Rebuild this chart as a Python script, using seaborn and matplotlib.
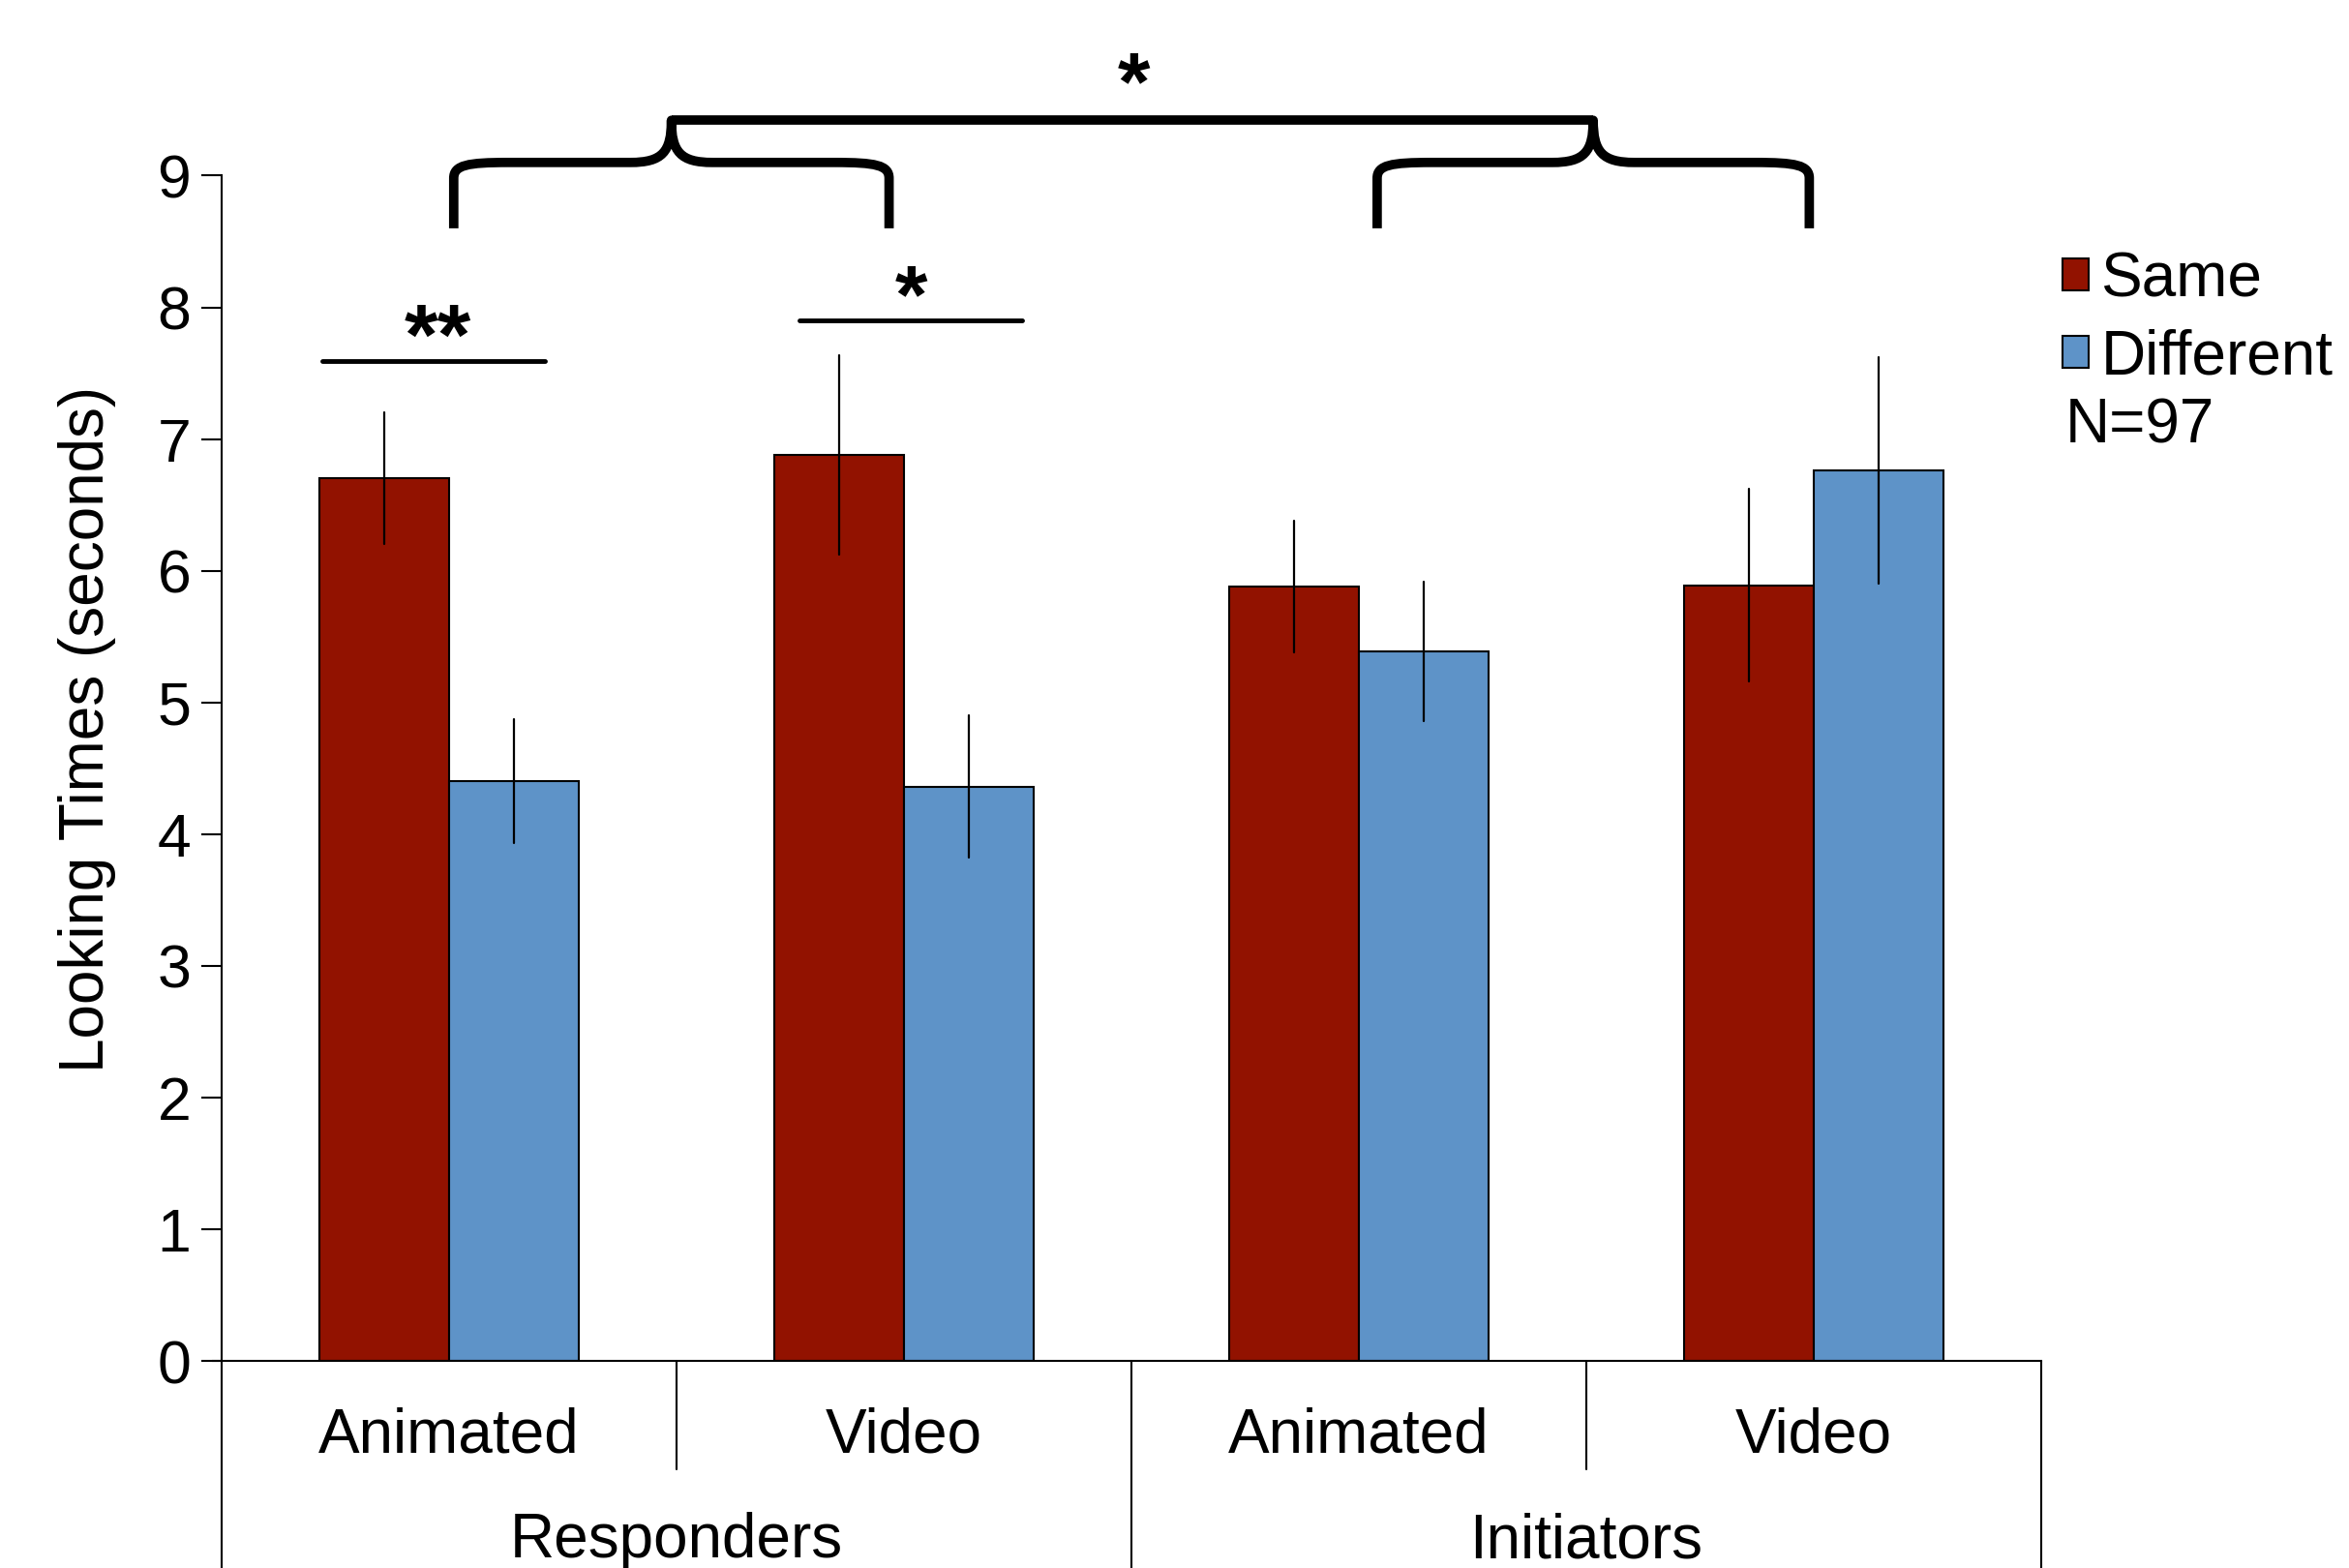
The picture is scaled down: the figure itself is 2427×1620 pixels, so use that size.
import numpy as np
import pandas as pd
import seaborn as sns
import matplotlib.pyplot as plt
from matplotlib.path import Path
from matplotlib.patches import PathPatch
from matplotlib.patches import Patch
import matplotlib.transforms as mtransforms

# data
groups = ["Responders", "Responders", "Initiators", "Initiators"]
conditions = ["Animated", "Video", "Animated", "Video"]
same_means = [6.70, 6.88, 5.88, 5.89]
same_err = [0.50, 0.76, 0.50, 0.73]
diff_means = [4.40, 4.36, 5.39, 6.76]
diff_err = [0.47, 0.54, 0.53, 0.86]
hue_labels = ["Same", "Different"]
colors = ["#921200", "#5e93c8"]

FONT = ["Liberation Sans", "DejaVu Sans"]

cats = [f"{g} {c}" for g, c in zip(groups, conditions)]
df = pd.DataFrame({
    "cat": cats * 2,
    "type": ["Same"] * 4 + ["Different"] * 4,
    "value": same_means + diff_means,
    "err": same_err + diff_err,
})

sns.set_style("white")
plt.rcParams["font.family"] = FONT
plt.rcParams["text.color"] = "black"
plt.rcParams["axes.labelcolor"] = "black"
plt.rcParams["xtick.color"] = "black"
plt.rcParams["ytick.color"] = "black"
plt.rcParams["axes.edgecolor"] = "black"

fig = plt.figure(figsize=(24.27, 16.2), dpi=100)
ax = fig.add_axes([0.0944, 0.132, 0.7746, 0.756])

sns.barplot(data=df, x="cat", y="value", hue="type", hue_order=hue_labels,
            palette=colors, order=cats, width=0.57, errorbar=None,
            edgecolor="black", linewidth=1.5, saturation=1, ax=ax, legend=False)

# error bars from bar centres
for cont, errs in zip(ax.containers, [same_err, diff_err]):
    for bar, e in zip(cont, errs):
        xc = bar.get_x() + bar.get_width() / 2
        h = bar.get_height()
        ax.plot([xc, xc], [h - e, h + e], color="black", lw=1.6, zorder=5)

ax.set_xlim(-0.5, 3.5)
ax.set_ylim(0, 9)
ax.set_yticks(range(10))
ax.tick_params(axis="y", labelsize=45, length=15, width=1.5, direction="out", pad=8, left=True)
ax.set_xticks([])
ax.set_xlabel("")
ax.set_ylabel("Looking Times (seconds)", fontsize=46, labelpad=22)
ax.yaxis.set_label_coords(-0.058, 0.533)
for s in ["top", "right"]:
    ax.spines[s].set_visible(False)
ax.spines["left"].set_linewidth(1.5)
ax.spines["bottom"].set_linewidth(1.5)
ax.spines["bottom"].set_bounds(-0.52, 3.5)

# hierarchical category axis below
trans = mtransforms.blended_transform_factory(ax.transData, ax.transAxes)
for xb in [-0.5, 1.5, 3.5]:
    ax.plot([xb, xb], [0, -0.2], color="black", lw=1.5, transform=trans, clip_on=False)
for xb in [0.5, 2.5]:
    ax.plot([xb, xb], [0, -0.091], color="black", lw=1.5, transform=trans, clip_on=False)
for i, c in enumerate(conditions):
    ax.text(i, -0.063, c, transform=trans, ha="center", va="center", fontsize=46)
for i, g in enumerate(["Responders", "Initiators"]):
    ax.text(2 * i + 0.5, -0.152, g, transform=trans, ha="center", va="center", fontsize=46)

# significance markers
ax.plot([-0.28, 0.21], [7.59, 7.59], color="black", lw=3.5, clip_on=False)
ax.text(-0.025, 7.74, "**", ha="center", va="center", fontsize=64, fontweight="bold")
ax.plot([0.77, 1.26], [7.90, 7.90], color="black", lw=3.5, clip_on=False)
ax.text(1.015, 8.05, "*", ha="center", va="center", fontsize=62, fontweight="bold")


def brace(ax, x0, x1, ybot, ymid, ytop):
    xc = (x0 + x1) / 2
    verts = [
        (x0, ybot), (x0, ymid - 0.12),
        (x0, ymid - 0.02), (x0 + 0.03, ymid), (x0 + 0.12, ymid),
        (xc - 0.09, ymid),
        (xc - 0.02, ymid), (xc, ymid + 0.08), (xc, ytop),
        (xc, ymid + 0.08), (xc + 0.02, ymid), (xc + 0.09, ymid),
        (x1 - 0.12, ymid),
        (x1 - 0.03, ymid), (x1, ymid - 0.02), (x1, ymid - 0.12),
        (x1, ybot),
    ]
    codes = [Path.MOVETO, Path.LINETO,
             Path.CURVE4, Path.CURVE4, Path.CURVE4,
             Path.LINETO,
             Path.CURVE4, Path.CURVE4, Path.CURVE4,
             Path.CURVE4, Path.CURVE4, Path.CURVE4,
             Path.LINETO,
             Path.CURVE4, Path.CURVE4, Path.CURVE4,
             Path.LINETO]
    ax.add_patch(PathPatch(Path(verts, codes), facecolor="none", edgecolor="black",
                           lw=7, clip_on=False, capstyle="butt", joinstyle="round"))
    return xc


tip_l = brace(ax, 0.01, 0.967, 8.60, 9.10, 9.42)
tip_r = brace(ax, 2.04, 2.99, 8.60, 9.10, 9.42)
ax.plot([tip_l, tip_r], [9.42, 9.42], color="black", lw=7, clip_on=False,
        solid_capstyle="butt")
ax.text(1.505, 9.66, "*", ha="center", va="center", fontsize=62, fontweight="bold")

# legend
handles = [Patch(facecolor=c, edgecolor="black", linewidth=1.5) for c in colors]
fig.legend(handles, hue_labels, loc="upper left", bbox_to_anchor=(0.878, 0.84),
           frameon=False, fontsize=46, handlelength=0.42, handleheight=0.42,
           handletextpad=0.2, labelspacing=0.32, borderpad=0, borderaxespad=0)
fig.text(0.879, 0.728, "N=97", fontsize=46, ha="left", va="center")

fig.savefig("out.png", dpi=100)
